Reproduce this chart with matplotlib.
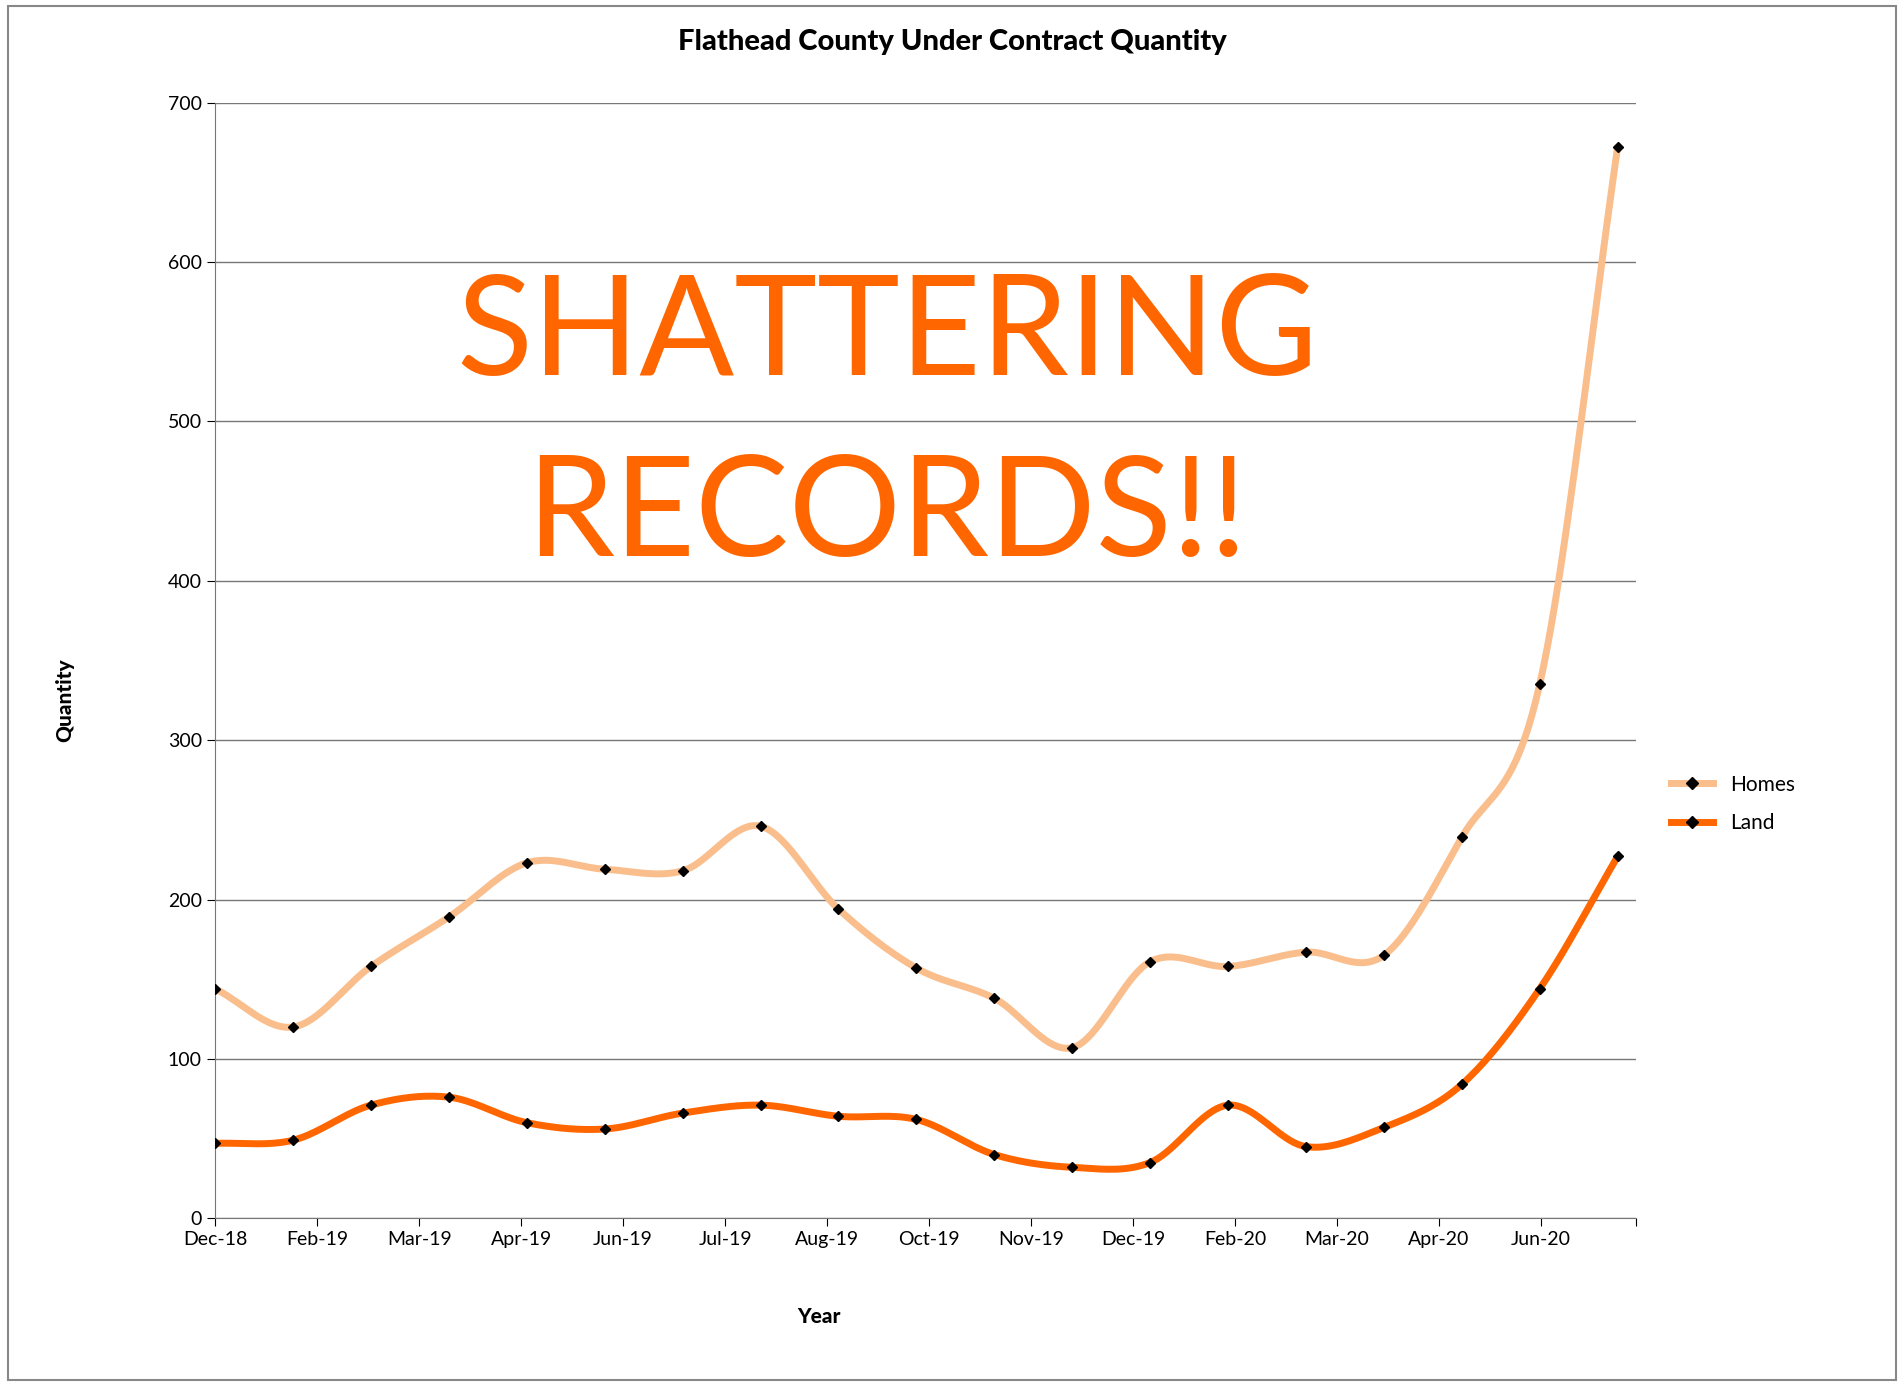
import numpy as np
import matplotlib.pyplot as plt
from matplotlib.lines import Line2D
from matplotlib.patches import Rectangle

plt.rcParams['font.family'] = ['Lato', 'DejaVu Sans']

# monthly observations, Dec-18 .. Jun-20
homes = [144, 120, 158, 189, 223, 219, 218, 246, 194, 157, 138, 107, 161, 158, 167, 165, 239, 335, 672]
land = [47, 49, 71, 76, 60, 56, 66, 71, 64, 62, 40, 32, 35, 71, 45, 57, 84, 144, 227]
tick_labels = ['Dec-18', 'Feb-19', 'Mar-19', 'Apr-19', 'Jun-19', 'Jul-19', 'Aug-19',
               'Oct-19', 'Nov-19', 'Dec-19', 'Feb-20', 'Mar-20', 'Apr-20', 'Jun-20']
tick_step = 1.309  # date-axis label interval measured in months

HOMES_C = '#F9BE8C'
LAND_C = '#FF6600'


def smooth(y, n=20):
    # Catmull-Rom curve through the points, like Excel's smoothed line
    y = np.asarray(y, float)
    x = np.arange(len(y), dtype=float)
    px = np.concatenate([[2 * x[0] - x[1]], x, [2 * x[-1] - x[-2]]])
    py = np.concatenate([[2 * y[0] - y[1]], y, [2 * y[-1] - y[-2]]])
    xs, ys = [], []
    t = np.linspace(0, 1, n, endpoint=False)
    for i in range(1, len(px) - 2):
        for p, out in ((px, xs), (py, ys)):
            p0, p1, p2, p3 = p[i - 1:i + 3]
            out.extend(0.5 * (2 * p1 + (-p0 + p2) * t + (2 * p0 - 5 * p1 + 4 * p2 - p3) * t ** 2
                              + (-p0 + 3 * p1 - 3 * p2 + p3) * t ** 3))
    xs.append(x[-1]); ys.append(y[-1])
    return xs, ys


fig = plt.figure(figsize=(19.04, 13.86), dpi=100)
fig.patches.append(Rectangle((0.004, 0.004), 0.992, 0.992, transform=fig.transFigure,
                             fill=False, edgecolor='#888888', linewidth=1.5))
ax = fig.add_axes([0.113, 0.121, 0.746, 0.805])

for vals, col in ((homes, HOMES_C), (land, LAND_C)):
    sx, sy = smooth(vals)
    ax.plot(sx, sy, color=col, linewidth=5, solid_capstyle='round', zorder=2)
    ax.plot(range(len(vals)), vals, linestyle='none', marker='D', markersize=5,
            color='black', zorder=3)

ax.set_xlim(0, 18.23)
ax.set_ylim(0, 700)
ax.set_xticks([i * tick_step for i in range(len(tick_labels))] + [18.23])
ax.set_xticklabels(tick_labels + [''], fontsize=14)
ax.set_yticks(range(0, 701, 100))
ax.tick_params(axis='y', labelsize=14, direction='out', length=6)
ax.tick_params(axis='x', direction='out', length=6)
ax.yaxis.grid(True, color='#777777', linewidth=1)
ax.set_axisbelow(True)
for s in ['top', 'right']:
    ax.spines[s].set_visible(False)
for s in ['left', 'bottom']:
    ax.spines[s].set_color('#777777')

fig.text(0.430, 0.050, 'Year', ha='center', va='center', fontsize=15, fontweight='black')
fig.text(0.034, 0.495, 'Quantity', ha='center', va='center', rotation=90,
         fontsize=15, fontweight='black')
fig.text(0.5, 0.970, 'Flathead County Under Contract Quantity', ha='center', va='center',
         fontsize=21, fontweight='black')

fig.text(0.466, 0.758, 'SHATTERING', ha='center', va='center', fontsize=101, color=LAND_C)
fig.text(0.466, 0.627, 'RECORDS!!', ha='center', va='center', fontsize=101, color=LAND_C)

handles = [Line2D([], [], color=HOMES_C, linewidth=5, marker='D', markersize=6,
                  markerfacecolor='black', markeredgecolor='black'),
           Line2D([], [], color=LAND_C, linewidth=5, marker='D', markersize=6,
                  markerfacecolor='black', markeredgecolor='black')]
fig.legend(handles, ['Homes', 'Land'], loc='center left', bbox_to_anchor=(0.868, 0.42),
           frameon=False, fontsize=15, handlelength=2.0, labelspacing=0.9)

fig.savefig('out.png', dpi=100)
